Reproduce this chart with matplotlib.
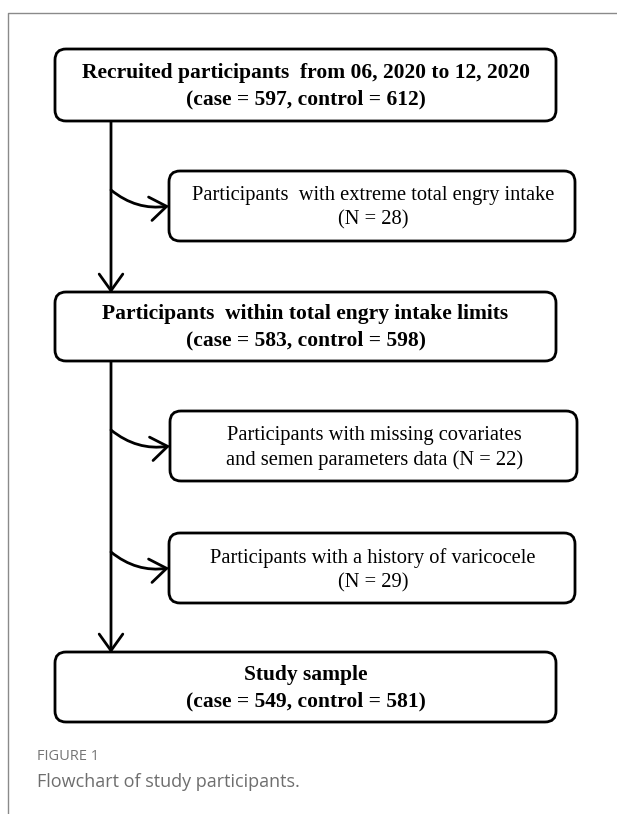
import matplotlib
matplotlib.use("Agg")
import matplotlib.pyplot as plt
from matplotlib.patches import FancyBboxPatch, FancyArrowPatch

# counts shown in the flowchart
main_labels = ["Recruited participants  from 06, 2020 to 12, 2020",
               "Participants  within total engry intake limits",
               "Study sample"]
case_n = [597, 583, 549]
control_n = [612, 598, 581]

excl_labels = ["Participants  with extreme total engry intake\n(N = {})",
               "Participants with missing covariates\nand semen parameters data (N = {})",
               "Participants with a history of varicocele\n(N = {})"]
excl_n = [28, 22, 29]

W, H = 617, 814
fig = plt.figure(figsize=(W / 100, H / 100), dpi=100)
ax = fig.add_axes([0, 0, 1, 1])
ax.set_xlim(0, W)
ax.set_ylim(H, 0)
ax.axis("off")

# page frame (left and top rules)
ax.plot([8, 8, W], [H, 13, 13], color="#8a8a8a", lw=1.0)

serif = "Liberation Serif"
lw = 2.0
main_boxes = [(55, 49, 556, 121), (55, 292, 556, 361), (55, 652, 556, 722)]
excl_boxes = [(169, 171, 575, 241), (170, 411, 577, 481), (169, 533, 575, 603)]


def box(x0, y0, x1, y1):
    p = FancyBboxPatch((x0, y0), x1 - x0, y1 - y0,
                       boxstyle="round,pad=0,rounding_size=11",
                       fc="white", ec="black", lw=lw, zorder=2)
    ax.add_patch(p)


for (x0, y0, x1, y1), lab, c, k in zip(main_boxes, main_labels, case_n, control_n):
    box(x0, y0, x1, y1)
    txt = "{}\n(case = {}, control = {})".format(lab, c, k)
    ax.text((x0 + x1) / 2, (y0 + y1) / 2 + 1, txt, ha="center", va="center",
            family=serif, fontweight="bold", fontsize=15.5, linespacing=1.42, zorder=3)

for (x0, y0, x1, y1), lab, n in zip(excl_boxes, excl_labels, excl_n):
    box(x0, y0, x1, y1)
    ax.text((x0 + x1) / 2 + 1, (y0 + y1) / 2 + 2, lab.format(n), ha="center", va="center",
            family=serif, fontsize=14.8, linespacing=1.38, zorder=3)

# main vertical flow
vx = 111
for ya, yb in [(121, 292), (361, 652)]:
    ax.add_patch(FancyArrowPatch((vx, ya), (vx, yb + 1), arrowstyle="->,head_length=7,head_width=5",
                                 mutation_scale=1.7, color="black", lw=lw, zorder=1,
                                 shrinkA=0, shrinkB=0))

# curved branches into the exclusion boxes
for (x0, y0, x1, y1) in excl_boxes:
    yc = (y0 + y1) / 2
    ax.add_patch(FancyArrowPatch((vx, yc - 16), (x0, yc), connectionstyle="arc3,rad=0.22",
                                 arrowstyle="->,head_length=7,head_width=5", mutation_scale=1.7,
                                 color="black", lw=lw, zorder=1, shrinkA=0, shrinkB=0))

# caption
ax.text(37, 757, "FIGURE 1", family="Open Sans", fontsize=10.5, color="#757575",
        ha="left", va="center")
ax.text(37, 782, "Flowchart of study participants.", family="Open Sans", fontsize=13,
        color="#6e6e6e", ha="left", va="center")

fig.savefig("out.png", dpi=100)
